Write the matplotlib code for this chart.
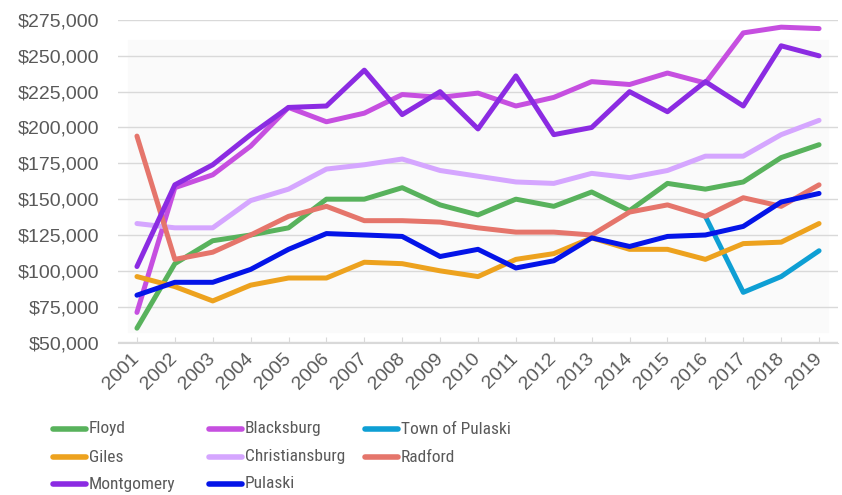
import numpy as np
import matplotlib
matplotlib.use('Agg')
import matplotlib.pyplot as plt
from matplotlib import font_manager
from matplotlib.font_manager import FontProperties
from matplotlib.lines import Line2D
from matplotlib.patches import Rectangle

# Donnees (valeur moyenne en dollars)
annees = [str(a) for a in range(2001, 2020)]

floyd = [60000, 105000, 121000, 125000, 130000, 150000, 150000, 158000, 146000, 139000,
         150000, 145000, 155000, 142000, 161000, 157000, 162000, 179000, 188000]
blacksburg = [71000, 158000, 167000, 187000, 214000, 204000, 210000, 223000, 221000, 224000,
              215000, 221000, 232000, 230000, 238000, 231000, 266000, 270000, 269000]
town_of_pulaski = [np.nan] * 15 + [138000, 85000, 96000, 114000]
giles = [96000, 89000, 79000, 90000, 95000, 95000, 106000, 105000, 100000, 96000,
         108000, 112000, 123000, 115000, 115000, 108000, 119000, 120000, 133000]
christiansburg = [133000, 130000, 130000, 149000, 157000, 171000, 174000, 178000, 170000, 166000,
                  162000, 161000, 168000, 165000, 170000, 180000, 180000, 195000, 205000]
radford = [194000, 108000, 113000, 125000, 138000, 145000, 135000, 135000, 134000, 130000,
           127000, 127000, 125000, 141000, 146000, 138000, 151000, 145000, 160000]
montgomery = [103000, 160000, 174000, 195000, 214000, 215000, 240000, 209000, 225000, 199000,
              236000, 195000, 200000, 225000, 211000, 232000, 215000, 257000, 250000]
pulaski = [83000, 92000, 92000, 101000, 115000, 126000, 125000, 124000, 110000, 115000,
           102000, 107000, 123000, 117000, 124000, 125000, 131000, 148000, 154000]

series = [
    ('Floyd', floyd, '#58B25C'),
    ('Blacksburg', blacksburg, '#C64FE0'),
    ('Town of Pulaski', town_of_pulaski, '#0E9FD4'),
    ('Giles', giles, '#EDA21E'),
    ('Christiansburg', christiansburg, '#D5A6FF'),
    ('Radford', radford, '#E5756B'),
    ('Montgomery', montgomery, '#8B2BE2'),
    ('Pulaski', pulaski, '#0414E8'),
]

noms = {f.name for f in font_manager.fontManager.ttflist}
police = 'Liberation Sans' if 'Liberation Sans' in noms else 'DejaVu Sans'

# police etroite pour la legende si on en trouve une
fichiers = [f.fname for f in font_manager.fontManager.ttflist]
prop_leg = None
for motif in ['LiberationSansNarrow-Regular', 'RobotoCondensed-Regular',
              'DejaVuSansCondensed.ttf', 'OpenSans_Condensed-Regular', 'Condensed-Regular']:
    trouve = [f for f in fichiers if motif in f]
    if trouve:
        prop_leg = FontProperties(fname=trouve[0], size=12.5)
        break
if prop_leg is None:
    prop_leg = FontProperties(family=police, size=12, stretch='condensed')

fig = plt.figure(figsize=(8.42, 4.95), dpi=100)
ax = fig.add_axes([118 / 842, 1 - 342.5 / 495, 720 / 842, 322.5 / 495])

# fond tres clair derriere les courbes
ax.add_patch(Rectangle((128 / 842, 1 - 332 / 495), 700 / 842, 292 / 495,
                       transform=fig.transFigure, color='#FAFAFA', zorder=0,
                       clip_on=False))

x = np.arange(len(annees))
for nom, valeurs, couleur in series:
    ax.plot(x, valeurs, color=couleur, lw=3.6, label=nom, solid_capstyle='round',
            solid_joinstyle='round', zorder=2)

ax.set_xlim(-0.5, len(annees) - 0.5)
ax.set_ylim(50000, 275000)
ax.set_yticks(range(50000, 275001, 25000))
ax.set_yticklabels(['${:,}'.format(v) for v in range(50000, 275001, 25000)])
ax.set_xticks(x)
ax.set_xticklabels(annees, rotation=45, ha='right', va='center', rotation_mode='anchor')

ax.grid(axis='y', color='#D9D9D9', lw=1)
ax.set_axisbelow(True)
for cote in ['top', 'right', 'left']:
    ax.spines[cote].set_visible(False)
ax.spines['bottom'].set_color('#D9D9D9')
ax.tick_params(axis='y', length=0, pad=13.5, labelsize=14, labelcolor='#595959')
ax.tick_params(axis='x', direction='in', length=4, color='#D9D9D9', pad=10,
               labelsize=14, labelcolor='#595959')
for t in ax.get_xticklabels() + ax.get_yticklabels():
    t.set_fontfamily(police)

# legende en lignes (3 par ligne), placee a la main
col_x = [53, 209, 365]
ligne_y = [429, 457, 484]
for i, (nom, valeurs, couleur) in enumerate(series):
    cx = col_x[i % 3]
    cy = ligne_y[i // 3]
    fig.add_artist(Line2D([cx / 842, (cx + 33) / 842], [1 - cy / 495, 1 - cy / 495],
                          transform=fig.transFigure, color=couleur, lw=4,
                          solid_capstyle='round'))
    fig.text((cx + 36) / 842, 1 - cy / 495, nom, fontproperties=prop_leg,
             color='#595959', ha='left', va='center')

fig.savefig('out.png', dpi=100)
